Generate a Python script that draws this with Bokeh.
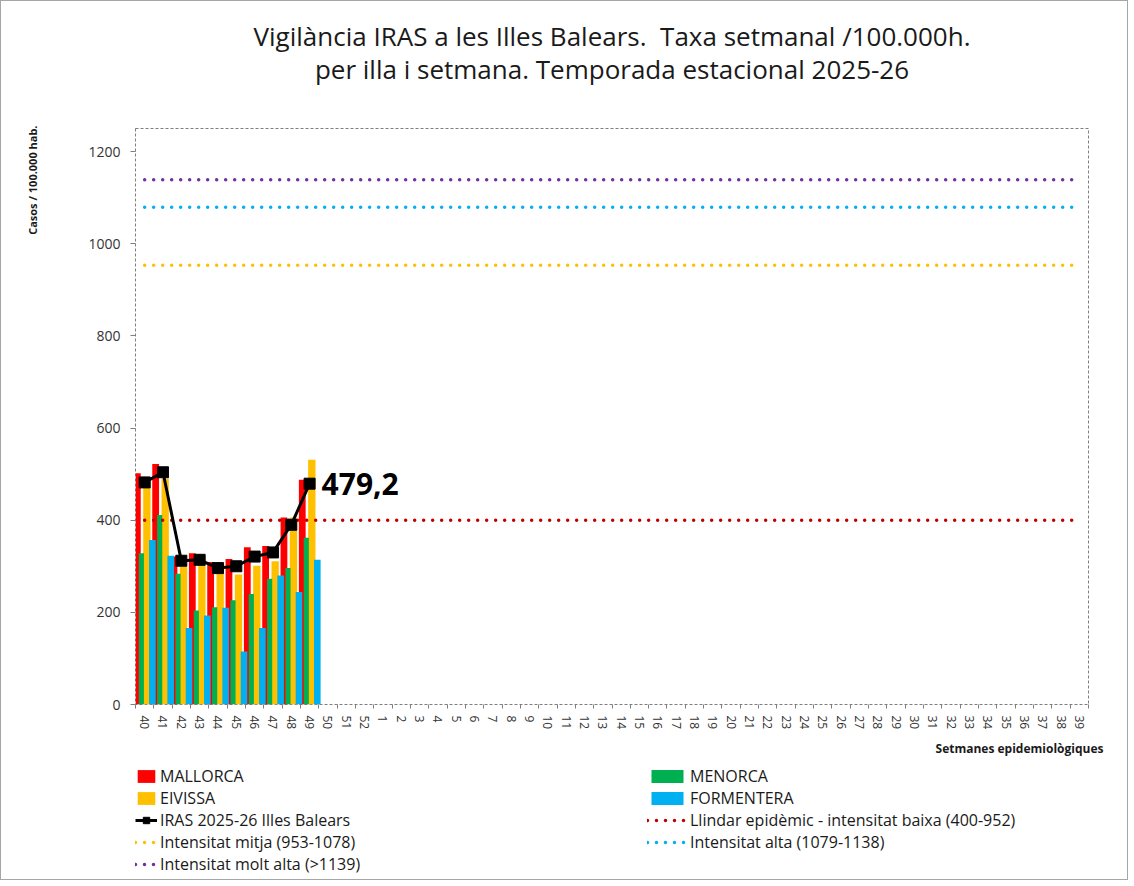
import math
from bokeh.plotting import figure
from bokeh.layouts import column
from bokeh.models import (ColumnDataSource, FixedTicker, Legend, LegendItem,
                          Title, Range1d)
from bokeh.transform import dodge
from bokeh.embed import file_html
from bokeh.resources import INLINE
from bokeh.core.properties import value

# ---------------- data ----------------
weeks = [str(w) for w in list(range(40, 53)) + list(range(1, 40))]
data_weeks = ["40", "41", "42", "43", "44", "45", "46", "47", "48", "49"]
mallorca = [502, 522, 321, 328, 309, 316, 341, 344, 406, 488]
menorca = [328, 411, 284, 204, 211, 226, 240, 273, 296, 362]
eivissa = [488, 490, 300, 323, 291, 282, 301, 311, 406, 531]
formentera = [357, 323, 166, 193, 210, 115, 166, 280, 244, 314]
iras = [482, 504, 312, 314, 296, 300, 321, 330, 390, 479.2]

thr_values = [400, 953, 1079, 1139]
thr_labels = ["Llindar epidèmic - intensitat baixa (400-952)",
              "Intensitat mitja (953-1078)",
              "Intensitat alta (1079-1138)",
              "Intensitat molt alta (>1139)"]
thr_colors = ["#C00000", "#FFC000", "#00B0F0", "#7030A0"]

island_names = ["MALLORCA", "MENORCA", "EIVISSA", "FORMENTERA"]
island_cols = ["mallorca", "menorca", "eivissa", "formentera"]
island_colors = ["#FF0000", "#00B050", "#FFC000", "#00B0F0"]
iras_label = "IRAS 2025-26 Illes Balears"

y_ticks = [0, 200, 400, 600, 800, 1000, 1200]

title_1 = "Vigilància IRAS a les Illes Balears.  Taxa setmanal /100.000h."
title_2 = "per illa i setmana. Temporada estacional 2025-26"
y_title = "Casos / 100.000 hab."
x_title = "Setmanes epidemiològiques"

FONT = "Open Sans"
NB = "\u00a0"

xi = [weeks.index(w) for w in data_weeks]
src = ColumnDataSource(dict(x=xi, mallorca=mallorca, menorca=menorca,
                            eivissa=eivissa, formentera=formentera, iras=iras))

p = figure(width=1126, height=765,
           x_range=Range1d(-0.5, len(weeks) - 0.5), y_range=Range1d(0, 1250),
           output_backend="svg", toolbar_location=None,
           min_border_left=134, min_border_right=39,
           min_border_top=127, min_border_bottom=62)
p.grid.visible = False
p.background_fill_color = "white"
p.border_fill_color = "white"
p.outline_line_color = "#7f7f7f"
p.outline_line_dash = "3 2"
p.outline_line_width = 1

# title (two lines + blank line used as spacing)
t = Title(text=title_1.replace("  ", " " + NB) + "\n" + title_2 + "\n" + NB,
          align="center", text_font=FONT, text_font_size="26px",
          text_font_style="normal", text_line_height=0.9,
          text_color="#1a1a1a", standoff=19)
try:
    t.text_align = "center"
except Exception:
    pass
p.add_layout(t, "above")

# bars (drawn red, yellow, green, blue)
bar_spec = {"mallorca": (-0.40, 0.37), "eivissa": (0.12, 0.40),
            "menorca": (-0.18, 0.28), "formentera": (0.42, 0.36)}
for col in ["mallorca", "eivissa", "menorca", "formentera"]:
    off, w = bar_spec[col]
    p.vbar(x=dodge("x", off), top=col, width=w, source=src,
           fill_color=island_colors[island_cols.index(col)], line_color=None)

# thresholds
for v, c in zip(thr_values, thr_colors):
    p.line(x=[0, len(weeks) - 1], y=[v, v], line_color=c, line_width=3.5,
           line_dash="0 9", line_cap="round")

# IRAS line
p.line(x="x", y="iras", source=src, line_color="black", line_width=3)
p.scatter(x="x", y="iras", source=src, marker="square", size=11,
          fill_color="black", line_color="black")

last_lbl = f"{iras[-1]:.1f}".replace(".", ",")
p.text(x=[xi[-1]], y=[iras[-1]], text=[last_lbl], x_offset=12,
       text_baseline="middle", text_align="left",
       text_font=value(FONT), text_font_style="bold",
       text_font_size="30px", text_color="black")

# axes
yax = p.yaxis[0]
yax.ticker = FixedTicker(ticks=y_ticks)
yax.axis_line_color = None
yax.major_tick_in = 0
yax.major_tick_out = 5
yax.major_tick_line_color = "#7f7f7f"
yax.minor_tick_line_color = None
yax.major_label_text_font = FONT
yax.major_label_text_font_size = "14px"
yax.major_label_text_color = "#333333"
yax.major_label_standoff = 10

xax = p.xaxis[0]
xax.ticker = FixedTicker(ticks=list(range(len(weeks))),
                         minor_ticks=[i - 0.5 for i in range(len(weeks) + 1)])
xax.major_label_overrides = {i: w for i, w in enumerate(weeks)}
xax.major_label_orientation = "vertical"
xax.axis_line_color = None
xax.major_tick_line_color = None
xax.minor_tick_in = 0
xax.minor_tick_out = 4
xax.minor_tick_line_color = "#7f7f7f"
xax.major_label_text_font = FONT
xax.major_label_text_font_size = "12px"
xax.major_label_text_color = "#333333"
xax.major_label_standoff = 5

# axis titles (as side titles)
p.add_layout(Title(text=y_title + ("\n" + NB) * 3, align="right", offset=-3,
                   text_font=FONT, text_font_style="bold",
                   text_font_size="11px", text_line_height=1.02,
                   text_color="#1a1a1a", standoff=0), "left")
p.add_layout(Title(text=x_title, align="right", offset=-15,
                   vertical_align="top",
                   text_font=FONT, text_font_style="bold",
                   text_font_size="12px", text_color="#1a1a1a",
                   standoff=14), "below")

# ---------------- legend strip ----------------
lf = figure(width=1126, height=113, x_range=Range1d(100, 101),
            y_range=Range1d(100, 101),
            output_backend="svg", toolbar_location=None,
            min_border_left=0, min_border_right=0,
            min_border_top=0, min_border_bottom=0)
lf.axis.visible = False
lf.grid.visible = False
lf.outline_line_color = None
lf.background_fill_color = "white"
lf.border_fill_color = "white"

bar_r = [lf.vbar(x="x", top=col, width=0.3, source=src, fill_color=c,
                 line_color=None, visible=False)
         for col, c in zip(island_cols, island_colors)]
thr_r = [lf.line(x=[0, len(weeks) - 1], y=[v, v], line_color=c,
                 line_width=3.5, line_dash="0 9", line_cap="round",
                 visible=False) for v, c in zip(thr_values, thr_colors)]
iras_l = lf.line(x="x", y="iras", source=src, line_color="black",
                 line_width=3, visible=False)
iras_m = lf.scatter(x="x", y="iras", source=src, marker="square", size=11,
                    fill_color="black", line_color="black", visible=False)


def mk_legend(items, loc, gw):
    return Legend(items=items, location=loc, orientation="vertical",
                  background_fill_alpha=0, border_line_color=None,
                  padding=0, margin=0, spacing=0, glyph_width=gw,
                  glyph_height=16, label_height=20, label_standoff=3,
                  inactive_fill_alpha=0, click_policy="none",
                  label_text_font=FONT, label_text_font_size="16px",
                  label_text_color="#1a1a1a")


left_items = [LegendItem(label=island_names[0], renderers=[bar_r[0]]),
              LegendItem(label=island_names[2], renderers=[bar_r[2]]),
              LegendItem(label=iras_label, renderers=[iras_l, iras_m]),
              LegendItem(label=thr_labels[1], renderers=[thr_r[1]]),
              LegendItem(label=thr_labels[3], renderers=[thr_r[3]])]
right_items = [LegendItem(label=island_names[1], renderers=[bar_r[1]]),
               LegendItem(label=island_names[3], renderers=[bar_r[3]]),
               LegendItem(label=thr_labels[0], renderers=[thr_r[0]]),
               LegendItem(label=thr_labels[2], renderers=[thr_r[2]])]
lf.add_layout(mk_legend(left_items, (0, 4), 22))
lf.add_layout(mk_legend(right_items, (512, 26), 40))

layout = column(p, lf, spacing=0)
layout.styles = {"border": "1px solid #a6a6a6"}

open("out.html", "w").write(file_html(layout, INLINE))
